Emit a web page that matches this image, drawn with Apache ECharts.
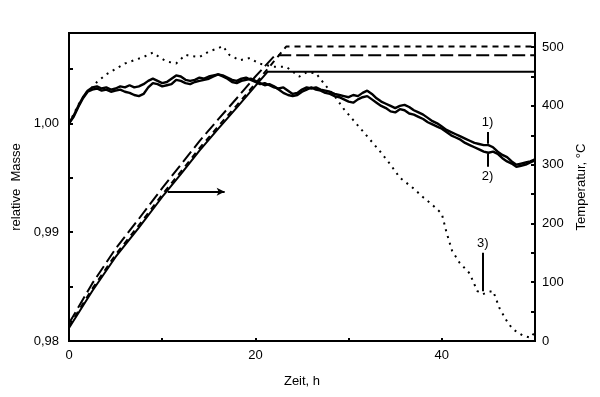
<!DOCTYPE html>
<html>
<head>
<meta charset="utf-8">
<script src="https://cdn.jsdelivr.net/npm/echarts@6/dist/echarts.min.js"></script>
<style>
html,body{margin:0;padding:0;background:#fff;}
#chart{width:600px;height:397px;}
</style>
</head>
<body>
<div id="chart"></div>
<script>
// Axis definitions
const xTickLabels = [0, 20, 40];
const massTickLabels = ['0,98', '0,99', '1,00'];
const tempTickLabels = [0, 100, 200, 300, 400, 500];

// relative mass curves [Zeit h, relative Masse]
const mass1 = [[0,1.0000],[0.5,1.0007],[1,1.0016],[1.5,1.0024],[2,1.0030],[2.5,1.0033],[3,1.0034],[3.5,1.0032],[4,1.0033],[4.5,1.0031],[5,1.0032],[5.5,1.0034],[6,1.0033],[6.5,1.0035],[7,1.0033],[7.5,1.0034],[8,1.0036],[8.5,1.0039],[9,1.0041],[9.5,1.0039],[10,1.0037],[10.5,1.0038],[11,1.0041],[11.5,1.0044],[12,1.0043],[12.5,1.0040],[13,1.0039],[13.5,1.0040],[14,1.0042],[14.5,1.0041],[15,1.0043],[15.5,1.0044],[16,1.0045],[16.5,1.0044],[17,1.0042],[17.5,1.0040],[18,1.0039],[18.5,1.0041],[19,1.0042],[19.5,1.0040],[20,1.0038],[20.5,1.0036],[21,1.0037],[21.5,1.0035],[22,1.0033],[22.5,1.0032],[23,1.0033],[23.5,1.0030],[24,1.0027],[24.5,1.0028],[25,1.0031],[25.5,1.0033],[26,1.0032],[26.5,1.0033],[27,1.0031],[27.5,1.0030],[28,1.0029],[28.5,1.0027],[29,1.0026],[29.5,1.0025],[30,1.0024],[30.5,1.0026],[31,1.0025],[31.5,1.0028],[32,1.0030],[32.5,1.0027],[33,1.0023],[33.5,1.0020],[34,1.0018],[34.5,1.0016],[35,1.0014],[35.5,1.0016],[36,1.0017],[36.5,1.0015],[37,1.0012],[37.5,1.0010],[38,1.0008],[38.5,1.0005],[39,1.0002],[39.5,1.0000],[40,0.9997],[40.5,0.9994],[41,0.9992],[41.5,0.9990],[42,0.9988],[42.5,0.9986],[43,0.9984],[43.5,0.9982],[44,0.9981],[44.5,0.9980],[45,0.9980],[45.5,0.9978],[46,0.9974],[46.5,0.9971],[47,0.9969],[47.5,0.9965],[48,0.9962],[48.5,0.9963],[49,0.9964],[49.5,0.9965],[50,0.9967]];
const mass2 = [[0,1.0000],[0.5,1.0006],[1,1.0015],[1.5,1.0023],[2,1.0029],[2.5,1.0031],[3,1.0032],[3.5,1.0030],[4,1.0031],[4.5,1.0029],[5,1.0030],[5.5,1.0031],[6,1.0029],[6.5,1.0028],[7,1.0026],[7.5,1.0025],[8,1.0027],[8.5,1.0033],[9,1.0037],[9.5,1.0036],[10,1.0034],[10.5,1.0035],[11,1.0036],[11.5,1.0040],[12,1.0039],[12.5,1.0037],[13,1.0036],[13.5,1.0038],[14,1.0039],[14.5,1.0040],[15,1.0041],[15.5,1.0043],[16,1.0045],[16.5,1.0043],[17,1.0041],[17.5,1.0038],[18,1.0037],[18.5,1.0039],[19,1.0040],[19.5,1.0041],[20,1.0039],[20.5,1.0037],[21,1.0035],[21.5,1.0036],[22,1.0034],[22.5,1.0031],[23,1.0028],[23.5,1.0026],[24,1.0025],[24.5,1.0026],[25,1.0029],[25.5,1.0031],[26,1.0033],[26.5,1.0031],[27,1.0030],[27.5,1.0028],[28,1.0027],[28.5,1.0025],[29,1.0024],[29.5,1.0022],[30,1.0020],[30.5,1.0019],[31,1.0022],[31.5,1.0024],[32,1.0025],[32.5,1.0022],[33,1.0019],[33.5,1.0016],[34,1.0014],[34.5,1.0011],[35,1.0010],[35.5,1.0013],[36,1.0012],[36.5,1.0009],[37,1.0008],[37.5,1.0006],[38,1.0004],[38.5,1.0001],[39,0.9999],[39.5,0.9997],[40,0.9995],[40.5,0.9992],[41,0.9989],[41.5,0.9987],[42,0.9985],[42.5,0.9982],[43,0.9980],[43.5,0.9978],[44,0.9976],[44.5,0.9974],[45,0.9973],[45.5,0.9974],[46,0.9972],[46.5,0.9968],[47,0.9965],[47.5,0.9963],[48,0.9960],[48.5,0.9961],[49,0.9962],[49.5,0.9964],[50,0.9966]];
const mass3 = [[0,1.0000],[1,1.0017],[2,1.0030],[2.5,1.0033],[3,1.0038],[4,1.0045],[5,1.0050],[6,1.0055],[7,1.0058],[8,1.0061],[9,1.0065],[9.5,1.0062],[10.4,1.0057],[11.5,1.0055],[12.5,1.0063],[13,1.0062],[14,1.0061],[15,1.0066],[16,1.0069],[16.5,1.0071],[17.2,1.0063],[18.3,1.0058],[19.4,1.0060],[20.4,1.0055],[21.9,1.0052],[23.3,1.0052],[24.7,1.0043],[25.5,1.0047],[26.5,1.0046],[27.5,1.0035],[28.5,1.0025],[29.5,1.0013],[30.5,1.0003],[31.5,0.9993],[32.5,0.9983],[33.3,0.9975],[34.5,0.9962],[35.5,0.9950],[37,0.9940],[38,0.9932],[39,0.9925],[40,0.9917],[40.5,0.9900],[41.1,0.9883],[41.9,0.9872],[43,0.9862],[43.8,0.9846],[44.4,0.9843],[45,0.9845],[45.5,0.9846],[46.2,0.9830],[47,0.9818],[47.6,0.9811],[48.7,0.9805],[49.5,0.9803],[49.8,0.9806],[50,0.9808]];

// temperature curves [Zeit h, Temperatur °C]
const temp1 = [[0,22],[2.5,85],[5,143],[7.5,193],[10,245],[12,284],[14,324],[16,361],[18,397],[20,434],[21.3,458],[50,458]];
const temp2 = [[0,30],[2.5,98],[5,157],[7.5,208],[10,260],[12,300],[14,340],[16,377],[18,413],[20,450],[22.1,486],[50,486]];
const temp3 = [[0,25],[2.5,89],[5,147],[7.5,197],[10,249],[12,288],[14,328],[16,365],[18,401],[20,438],[22,476],[23.3,501],[50,501]];

// annotations
const arrowFrom = [10.6, 254];
const arrowTo = [16.7, 254];
const mark1 = [[44.9, 0.99920], [44.9, 0.99812]];
const mark2 = [[44.9, 0.99722], [44.9, 0.99600]];
const mark3 = [[44.4, 0.98810], [44.4, 0.98456]];

const FONT = 'Liberation Sans, Arial, sans-serif';
const near = (a, b) => Math.abs(a - b) < 1e-6;

const chart = echarts.init(document.getElementById('chart'), null, {renderer: 'canvas'});

function annot(pair, text, pos) {
  return {
    silent: true,
    symbol: ['none', 'none'],
    lineStyle: {color: '#000', width: 2, type: 'solid'},
    label: {show: true, position: pos, formatter: text, color: '#000', fontFamily: FONT, fontSize: 13, distance: 3},
    data: [[{coord: pair[0]}, {coord: pair[1]}]]
  };
}

chart.setOption({
  animation: false,
  backgroundColor: '#fff',
  grid: {left: 69, right: 65, top: 33, bottom: 56, show: true, borderColor: '#000', borderWidth: 2, backgroundColor: 'transparent'},
  xAxis: {
    type: 'value', min: 0, max: 50, interval: 10,
    name: 'Zeit, h', nameLocation: 'middle', nameGap: 34,
    nameTextStyle: {color: '#000', fontFamily: FONT, fontSize: 13},
    axisLine: {show: true, lineStyle: {color: '#000', width: 2}},
    axisTick: {show: true, inside: true, length: 3, lineStyle: {color: '#000', width: 2}},
    axisLabel: {color: '#000', fontFamily: FONT, fontSize: 13, margin: 8,
      formatter: v => xTickLabels.some(t => near(t, v)) ? String(v) : ''},
    splitLine: {show: false}
  },
  yAxis: [{
    type: 'value', min: 0.98, max: 1.0083, interval: 0.005, position: 'left',
    name: 'relative  Masse', nameLocation: 'middle', nameGap: 44, nameRotate: 90,
    nameTextStyle: {color: '#000', fontFamily: FONT, fontSize: 13},
    axisLine: {show: true, lineStyle: {color: '#000', width: 2}},
    axisTick: {show: true, inside: true, length: 4, lineStyle: {color: '#000', width: 2}},
    axisLabel: {color: '#000', fontFamily: FONT, fontSize: 13, margin: 10, showMaxLabel: false,
      formatter: v => {
        const i = massTickLabels.findIndex(s => near(parseFloat(s.replace(',', '.')), v));
        return i >= 0 ? massTickLabels[i] : '';
      }},
    splitLine: {show: false}
  }, {
    type: 'value', min: 0, max: 524, interval: 50, position: 'right',
    name: 'Temperatur, °C', nameLocation: 'middle', nameGap: 40, nameRotate: 90,
    nameTextStyle: {color: '#000', fontFamily: FONT, fontSize: 13},
    axisLine: {show: true, lineStyle: {color: '#000', width: 2}},
    axisTick: {show: true, inside: true, length: 4, lineStyle: {color: '#000', width: 2}},
    axisLabel: {color: '#000', fontFamily: FONT, fontSize: 13, margin: 7, showMaxLabel: false,
      formatter: v => tempTickLabels.some(t => near(t, v)) ? String(v) : ''},
    splitLine: {show: false}
  }],
  series: [
    {name: 'T1', type: 'line', yAxisIndex: 1, data: temp1, showSymbol: false, symbol: 'none',
      lineStyle: {color: '#000', width: 2, type: 'solid'},
      markLine: {silent: true, symbol: ['none', 'arrow'], symbolSize: [6, 8],
        lineStyle: {color: '#000', width: 2, type: 'solid'}, label: {show: false},
        data: [[{coord: arrowFrom}, {coord: arrowTo}]]}},
    {name: 'T2', type: 'line', yAxisIndex: 1, data: temp2, showSymbol: false, symbol: 'none',
      lineStyle: {color: '#000', width: 2, type: [13, 5]}},
    {name: 'T3', type: 'line', yAxisIndex: 1, data: temp3, showSymbol: false, symbol: 'none',
      lineStyle: {color: '#000', width: 2, type: [6, 5]}},
    {name: 'M1', type: 'line', yAxisIndex: 0, data: mass1, showSymbol: false, symbol: 'none',
      lineStyle: {color: '#000', width: 2.4, type: 'solid'},
      markLine: annot(mark1, '1)', 'start')},
    {name: 'M2', type: 'line', yAxisIndex: 0, data: mass2, showSymbol: false, symbol: 'none',
      lineStyle: {color: '#000', width: 2.4, type: 'solid'},
      markLine: annot(mark2, '2)', 'end')},
    {name: 'M3', type: 'line', yAxisIndex: 0, data: mass3, showSymbol: false, symbol: 'none',
      lineStyle: {color: '#000', width: 2, type: [2, 5]},
      markLine: annot(mark3, '3)', 'start')}
  ]
});
</script>
</body>
</html>
